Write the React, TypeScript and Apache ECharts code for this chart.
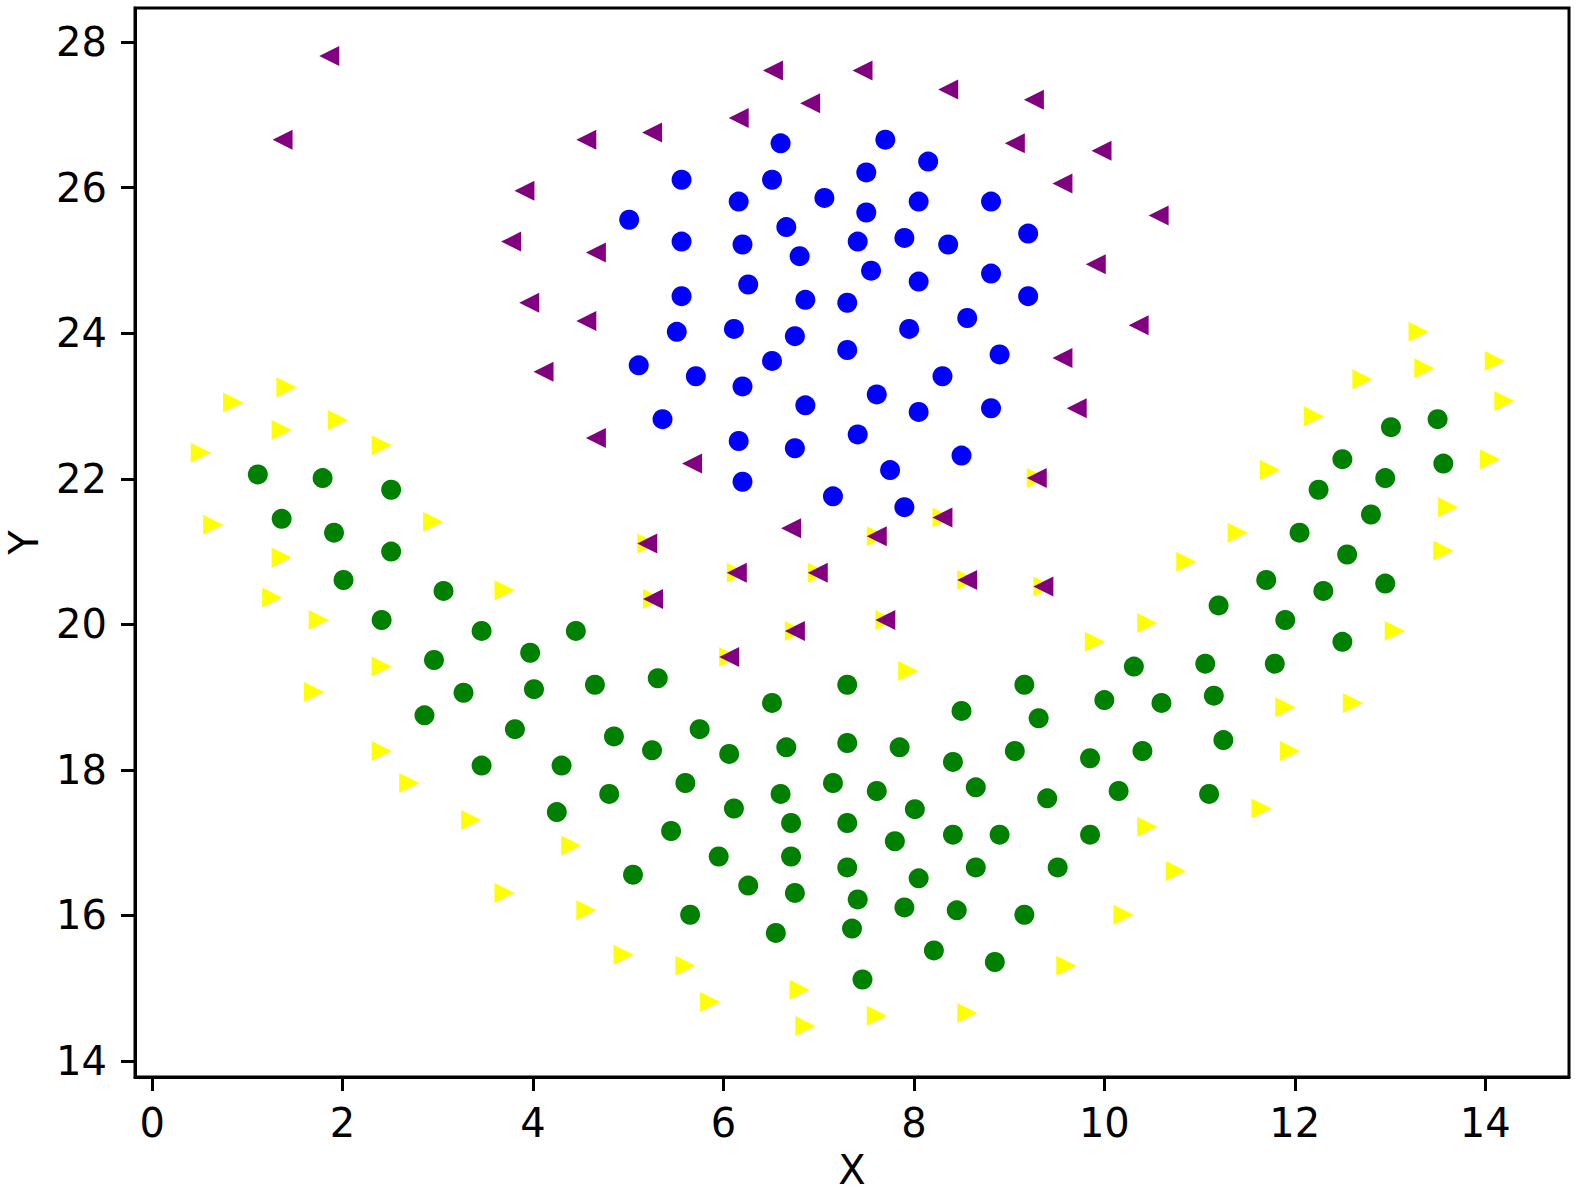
import React, { useEffect, useRef } from "react";
import * as echarts from "echarts";

const xTicks = [0, 2, 4, 6, 8, 10, 12, 14];
const yTicks = [14, 16, 18, 20, 22, 24, 26, 28];

const purplePoints: [number, number][] = [
  [1.86, 27.81], [1.37, 26.66], [6.52, 27.61], [7.46, 27.61], [6.91, 27.16], [8.36, 27.35],
  [9.26, 27.21], [6.16, 26.96], [5.25, 26.76], [4.56, 26.66], [9.06, 26.61], [9.97, 26.51],
  [3.91, 25.96], [9.56, 26.06], [10.57, 25.62], [3.77, 25.26], [4.66, 25.11], [9.91, 24.95],
  [3.96, 24.42], [4.56, 24.17], [10.36, 24.11], [4.11, 23.47], [9.56, 23.66], [9.71, 22.97],
  [4.66, 22.56], [5.67, 22.21], [9.29, 22.01], [6.71, 21.32], [8.30, 21.47], [5.20, 21.11],
  [7.61, 21.21], [6.14, 20.71], [6.99, 20.71], [8.56, 20.61], [9.36, 20.52], [5.26, 20.35],
  [6.75, 19.91], [7.70, 20.06], [6.06, 19.55],
];

const bluePoints: [number, number][] = [
  [6.60, 26.61], [7.70, 26.66], [8.15, 26.36], [5.56, 26.11], [6.51, 26.11], [7.50, 26.21],
  [5.01, 25.56], [6.16, 25.81], [7.06, 25.86], [8.05, 25.81], [8.81, 25.81], [7.50, 25.66],
  [5.56, 25.26], [6.20, 25.22], [6.66, 25.46], [7.41, 25.26], [7.90, 25.31], [8.36, 25.22],
  [9.20, 25.37], [6.80, 25.06], [7.55, 24.86], [8.81, 24.82], [6.26, 24.67], [8.05, 24.71],
  [5.56, 24.51], [6.86, 24.46], [7.30, 24.42], [9.20, 24.51], [5.51, 24.02], [6.11, 24.06],
  [6.75, 23.96], [7.95, 24.06], [8.56, 24.21], [7.30, 23.77], [5.11, 23.56], [6.51, 23.62],
  [8.90, 23.71], [5.71, 23.41], [6.20, 23.27], [8.30, 23.41], [7.61, 23.16], [6.86, 23.01],
  [8.05, 22.92], [8.81, 22.97], [5.36, 22.82], [7.41, 22.61], [6.16, 22.52], [6.75, 22.42],
  [8.50, 22.32], [7.75, 22.12], [6.20, 21.96], [7.15, 21.76], [7.90, 21.61],
];

const greenPoints: [number, number][] = [
  [1.11, 22.06], [1.79, 22.01], [2.51, 21.85], [1.36, 21.45], [1.91, 21.26], [2.51, 21.00],
  [2.01, 20.61], [2.41, 20.06], [3.06, 20.46], [3.46, 19.91], [2.96, 19.51], [3.27, 19.06],
  [2.86, 18.75], [3.97, 19.61], [4.45, 19.91], [4.01, 19.11], [3.81, 18.56], [3.46, 18.06],
  [4.30, 18.06], [4.25, 17.42], [4.65, 19.17], [4.85, 18.46], [4.80, 17.67], [5.31, 19.26],
  [5.25, 18.27], [5.05, 16.56], [5.45, 17.16], [5.60, 17.82], [5.75, 18.56], [5.65, 16.01],
  [5.95, 16.81], [6.06, 18.22], [6.11, 17.47], [6.26, 16.41], [6.51, 18.92], [6.66, 18.31],
  [6.60, 17.67], [6.71, 17.27], [6.71, 16.81], [6.75, 16.31], [6.55, 15.76], [7.30, 19.17],
  [7.30, 18.37], [7.15, 17.82], [7.30, 17.27], [7.30, 16.66], [7.41, 16.22], [7.35, 15.82],
  [7.46, 15.12], [7.61, 17.71], [7.85, 18.31], [7.80, 17.02], [7.90, 16.11], [8.01, 17.46],
  [8.05, 16.51], [8.21, 15.52], [8.50, 18.81], [8.41, 18.11], [8.65, 17.76], [8.41, 17.11],
  [8.65, 16.66], [8.45, 16.07], [8.85, 15.36], [8.90, 17.11], [9.06, 18.26], [9.16, 19.17],
  [9.31, 18.71], [9.40, 17.61], [9.16, 16.01], [9.51, 16.66], [9.85, 18.16], [10.00, 18.96],
  [10.31, 19.42], [10.15, 17.71], [9.85, 17.11], [10.40, 18.26], [10.60, 18.92], [11.06, 19.46],
  [11.15, 19.02], [11.25, 18.41], [11.10, 17.67], [11.20, 20.26], [11.70, 20.61], [11.90, 20.06],
  [11.79, 19.46], [12.05, 21.26], [12.30, 20.46], [12.25, 21.85], [12.50, 22.27], [12.55, 20.96],
  [12.50, 19.76], [12.80, 21.51], [12.95, 22.01], [13.01, 22.71], [12.95, 20.56], [13.50, 22.82],
  [13.56, 22.21],
];

const yellowPoints: [number, number][] = [
  [0.51, 22.36], [0.85, 23.05], [1.41, 23.26], [1.36, 22.67], [1.95, 22.81], [2.41, 22.46],
  [0.64, 21.37], [2.95, 21.41], [1.36, 20.92], [1.26, 20.37], [1.75, 20.06], [3.70, 20.47],
  [2.41, 19.42], [1.70, 19.07], [2.41, 18.26], [2.70, 17.82], [3.35, 17.31], [3.70, 16.31],
  [4.40, 16.96], [4.56, 16.07], [4.95, 15.46], [5.60, 15.31], [5.86, 14.81], [6.80, 14.98],
  [6.86, 14.48], [7.61, 14.62], [8.56, 14.66], [9.60, 15.31], [10.20, 16.01], [10.75, 16.61],
  [10.45, 17.22], [11.65, 17.47], [11.95, 18.26], [11.90, 18.86], [12.61, 18.92], [13.05, 19.91],
  [9.90, 19.76], [10.45, 20.02], [10.86, 20.86], [7.94, 19.36], [11.40, 21.26], [13.56, 21.01],
  [13.61, 21.61], [11.74, 22.12], [14.05, 22.27], [12.20, 22.86], [14.20, 23.07], [12.71, 23.37],
  [13.36, 23.52], [14.10, 23.62], [13.30, 24.02],
  [9.29, 22.01], [8.30, 21.47], [7.61, 21.21], [5.20, 21.11], [6.14, 20.71], [6.99, 20.71],
  [8.56, 20.61], [9.36, 20.52], [5.26, 20.35], [6.75, 19.91], [7.70, 20.06], [6.06, 19.55],
];

const FONT = "DejaVu Sans";
const FS = 40;

export default function App() {
  const ref = useRef<HTMLDivElement>(null);
  useEffect(() => {
    if (!ref.current) return;
    const chart = echarts.init(ref.current, undefined, { renderer: "svg" });
    const axisCommon = {
      type: "value" as const,
      splitLine: { show: false },
      axisLine: { show: true, onZero: false, lineStyle: { color: "#000", width: 3 } },
      axisTick: { show: true, length: 14, lineStyle: { color: "#000", width: 3 } },
      nameLocation: "middle" as const,
      nameTextStyle: { fontFamily: FONT, fontSize: FS, color: "#000", lineHeight: 36 },
    };
    chart.setOption({
      animation: false,
      backgroundColor: "#fff",
      grid: {
        left: 135,
        right: 6,
        top: 8,
        bottom: 120,
        show: true,
        borderColor: "#000",
        borderWidth: 3,
        containLabel: false,
        outerBoundsMode: "none",
      },
      xAxis: {
        ...axisCommon,
        min: -0.18,
        max: 14.88,
        name: "X",
        nameGap: 75,
        axisTick: { ...axisCommon.axisTick, customValues: xTicks },
        axisLabel: {
          customValues: xTicks,
          margin: 26,
          fontFamily: FONT,
          fontSize: FS,
          color: "#000",
        },
      },
      yAxis: {
        ...axisCommon,
        min: 13.78,
        max: 28.47,
        name: "Y",
        nameGap: 93,
        nameRotate: 90,
        axisTick: { ...axisCommon.axisTick, customValues: yTicks },
        axisLabel: {
          customValues: yTicks,
          margin: 28,
          fontFamily: FONT,
          fontSize: FS,
          color: "#000",
        },
      },
      series: [
        {
          type: "scatter",
          data: greenPoints,
          symbol: "circle",
          symbolSize: 20,
          itemStyle: { color: "#008000", opacity: 1 },
        },
        {
          type: "scatter",
          data: yellowPoints,
          symbol: "triangle",
          symbolSize: 20,
          symbolRotate: -90,
          itemStyle: { color: "#ffff00", opacity: 1 },
        },
        {
          type: "scatter",
          data: bluePoints,
          symbol: "circle",
          symbolSize: 20,
          itemStyle: { color: "#0000ff", opacity: 1 },
        },
        {
          type: "scatter",
          data: purplePoints,
          symbol: "triangle",
          symbolSize: 20,
          symbolRotate: 90,
          itemStyle: { color: "#800080", opacity: 1 },
        },
      ],
    });
    return () => chart.dispose();
  }, []);
  return (
    <div
      ref={ref}
      style={{ position: "fixed", left: 0, top: 0, width: 1575, height: 1197 }}
    />
  );
}
